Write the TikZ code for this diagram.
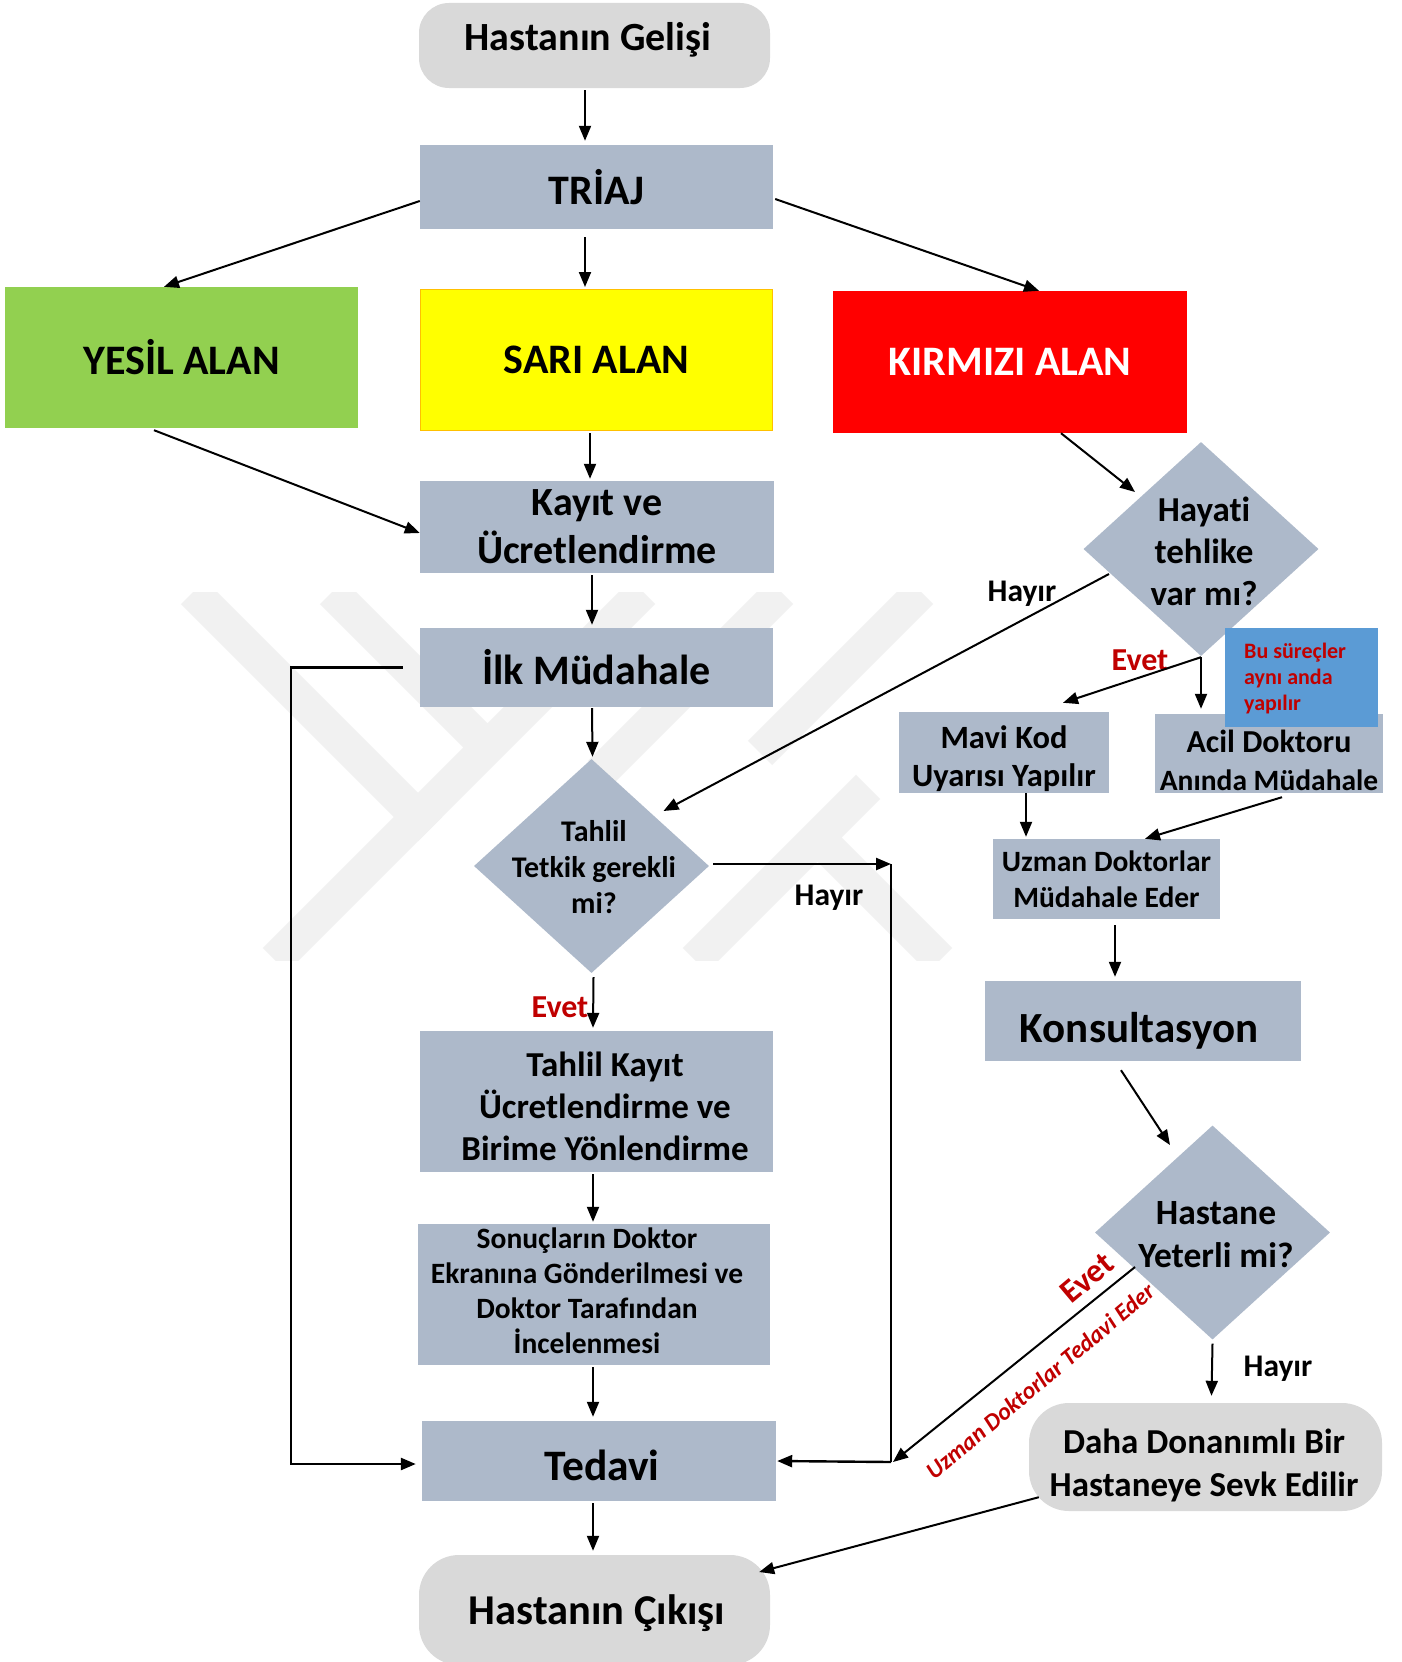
\documentclass[tikz,border=0pt]{standalone}
\usepackage{fontspec}
\setmainfont{Carlito}[Ligatures=NoCommon]
\usetikzlibrary{arrows.meta,shapes.geometric}
\definecolor{boxgray}{HTML}{ADB9CA}
\definecolor{termgray}{HTML}{D9D9D9}
\definecolor{zgreen}{HTML}{92D050}
\definecolor{zyellow}{HTML}{FFFF00}
\definecolor{zorange}{HTML}{FFC000}
\definecolor{zred}{HTML}{FF0000}
\definecolor{noteblue}{HTML}{5B9BD5}
\definecolor{darkred}{HTML}{C00000}
\definecolor{wmgray}{HTML}{F1F1F1}
\newcommand\fsz[2]{\fontsize{#1}{#2}\selectfont\bfseries}

\begin{document}
\begin{tikzpicture}[x=1pt,y=-1pt,
  box/.style={fill=boxgray, inner sep=0pt, align=center},
  term/.style={fill=termgray, inner sep=0pt, align=center},
  dia/.style={diamond, fill=boxgray, inner sep=0pt, minimum width=235pt, minimum height=214pt},
  lbl/.style={inner sep=0pt, align=center},
  arr/.style={line width=2pt, -{Triangle[length=15pt,width=12pt]}},
  wm/.style={wmgray, line width=34pt}]

\clip (0,0) rectangle (1401,1662);
\fill[white] (0,0) rectangle (1401,1662);

% faint logo in the background
\begin{scope}
  \clip (150,592) rectangle (1010,960);
  \draw[wm] (193,592) -- (430,829);
  \draw[wm] (332,592) -- (495,755);
  \draw[wm] (275,960) -- (643,592);
  \draw[wm] (781,592) -- (600,773);
  \draw[wm] (921,592) -- (760,753);
  \draw[wm] (695,960) -- (868,787);
  \draw[wm] (812,832) -- (940,960);
\end{scope}

% start and the three areas
\node[term, rounded corners=30pt, minimum width=351pt, minimum height=85pt] (gel) at (594.5,45.5) {};
\node[lbl, font=\fsz{40}{44}] (geltx) at (588,40) {Hastanın Gelişi};
\node[box, minimum width=353pt, minimum height=84pt, font=\fsz{42}{48}] (tri) at (596.5,187) {TRİAJ};
\node[box, fill=zgreen, minimum width=353pt, minimum height=141pt, font=\fsz{42}{48}] (yes) at (181.5,357.5) {YESİL ALAN};
\node[box, fill=zyellow, draw=zorange, line width=1pt, minimum width=352pt, minimum height=141pt, font=\fsz{42}{48}] (sari) at (596.5,360) {SARI ALAN};
\node[box, fill=zred, text=white, minimum width=354pt, minimum height=142pt, font=\fsz{42}{48}] (kir) at (1010,362) {KIRMIZI ALAN};

% middle column
\node[box, minimum width=354pt, minimum height=92pt, font=\fsz{40}{48}] (kay) at (597,527) {Kayıt ve\\Ücretlendirme};
\node[box, minimum width=353pt, minimum height=79pt, font=\fsz{42}{48}] (ilk) at (596.5,667.5) {İlk Müdahale};
\node[dia] (tah) at (591.5,866) {};
\node[lbl, font=\fsz{30}{36}] (tahtx) at (594,867) {Tahlil\\Tetkik gerekli\\mi?};
\node[box, minimum width=353pt, minimum height=141pt] (tk) at (596.5,1101.5) {};
\node[lbl, font=\fsz{35}{42}] (tktx) at (605,1106) {Tahlil Kayıt\\Ücretlendirme ve\\Birime Yönlendirme};
\node[box, minimum width=352pt, minimum height=141pt] (son) at (594,1294.5) {};
\node[lbl, font=\fsz{29.5}{35}] (sontx) at (587,1291) {Sonuçların Doktor\\Ekranına Gönderilmesi ve\\Doktor Tarafından\\İncelenmesi};
\node[box, minimum width=354pt, minimum height=80pt] (ted) at (599,1461) {};
\node[lbl, font=\fsz{43.5}{48}] (tedtx) at (602,1465) {Tedavi};
\node[term, rounded corners=40pt, minimum width=351pt, minimum height=110pt] (cik) at (594.5,1610) {};
\node[lbl, font=\fsz{42.5}{48}] (ciktx) at (597,1613) {Hastanın Çıkışı};

% red area branch
\node[dia] (hay) at (1201,549) {};
\node[lbl, font=\fsz{35}{42}] (haytx) at (1204,551) {Hayati\\tehlike\\var mı?};
\node[box, minimum width=210pt, minimum height=81pt] (mavi) at (1004,752.5) {};
\node[lbl, font=\fsz{32.5}{38}] (mavitx) at (1004,759) {Mavi Kod\\Uyarısı Yapılır};
\node[box, minimum width=228pt, minimum height=79pt] (acil) at (1269,753.5) {};
\node[lbl, font=\fsz{29.5}{38}] (aciltx) at (1269,760) {{\fontsize{32}{38}\selectfont Acil Doktoru}\\Anında Müdahale};
\node[fill=noteblue, minimum width=153pt, minimum height=99pt, inner sep=0pt] (note) at (1301.5,677.5) {};
\node[lbl, anchor=west, align=left, text=darkred, font=\fsz{22}{26}] (notetx) at (1244,679) {Bu süreçler\\aynı anda\\yapılır};
\node[box, minimum width=227pt, minimum height=80pt, font=\fsz{29.5}{36}] (uzm) at (1106.5,879) {Uzman Doktorlar\\Müdahale Eder};
\node[box, minimum width=316pt, minimum height=80pt] (kon) at (1143,1021) {};
\node[lbl, font=\fsz{43}{48}] (kontx) at (1139,1031) {Konsultasyon};
\node[dia] (hst) at (1212.5,1232.5) {};
\node[lbl, font=\fsz{35.5}{43}] (hsttx) at (1216,1235) {Hastane\\Yeterli mi?};
\node[term, rounded corners=40pt, minimum width=353pt, minimum height=108pt] (daha) at (1205.5,1457) {};
\node[lbl, font=\fsz{35}{43}] (dahatx) at (1204,1465) {Daha Donanımlı Bir\\Hastaneye Sevk Edilir};

% branch labels
\node[lbl, font=\fsz{31.5}{36}] (hay1) at (1022,594) {Hayır};
\node[lbl, font=\fsz{32}{36}, text=darkred] (ev1) at (1140,660) {Evet};
\node[lbl, font=\fsz{32}{36}, text=darkred] (ev2) at (560,1007) {Evet};
\node[lbl, font=\fsz{31.5}{36}] (hay2) at (829,898) {Hayır};
\node[lbl, font=\fsz{31.5}{36}] (hay3) at (1278,1369) {Hayır};
\node[lbl, font=\fsz{33}{36}, text=darkred, rotate=40] (ev3) at (1087,1278) {Evet};
\node[lbl, font=\fontsize{24}{28}\selectfont\bfseries\itshape, text=darkred, rotate=40] (uzmtx) at (1040,1381) {Uzman Doktorlar Tedavi Eder};

% helper points of the elbow connectors
\coordinate (tp) at (891,864);
\coordinate (jn) at (891,1462);
\coordinate (lpt) at (291,667.5);
\coordinate (lpb) at (291,1464);

% connectors
\draw[arr] ([xshift=-9.5pt,yshift=-2pt]gel.south) -- ([xshift=-11.5pt,yshift=4pt]tri.north);
\draw[arr] ([yshift=-14pt]tri.west) -- ([xshift=-17.5pt]yes.north);
\draw[arr] ([xshift=-11.5pt,yshift=-8pt]tri.south) -- ([xshift=-11.5pt,yshift=2pt]sari.north);
\draw[arr] ([xshift=2pt,yshift=-12pt]tri.east) -- ([xshift=29pt]kir.north);
\draw[arr] ([xshift=-27.5pt,yshift=-2pt]yes.south) -- ([yshift=-6pt]kay.west);
\draw[arr] ([xshift=-6.5pt,yshift=-2pt]sari.south) -- ([xshift=-7pt,yshift=2pt]kay.north);
\draw[arr] ([xshift=51pt]kir.south) -- ([xshift=-66pt,yshift=57pt]hay.center);
\draw[arr] ([xshift=-5pt,yshift=-2pt]kay.south) -- ([xshift=-4.5pt,yshift=3pt]ilk.north);
\draw[arr] ([xshift=-4.5pt,yshift=-1pt]ilk.south) -- ([xshift=1pt,yshift=2pt]tah.north);
\draw[arr] ([xshift=-92pt,yshift=-25pt]hay.center) -- ([xshift=72pt,yshift=55pt]tah.center);
\draw[arr] ([yshift=-1pt]hay.south) -- ([xshift=59pt,yshift=9pt]mavi.north);
\draw[arr] ([yshift=-1pt]hay.south) -- ([xshift=-68pt,yshift=5pt]acil.north);
\draw[arr] ([xshift=22pt]mavi.south) -- ([xshift=-80.5pt,yshift=2pt]uzm.north);
\draw[arr] ([xshift=13pt,yshift=-4pt]acil.south) -- ([xshift=38.5pt]uzm.north);
\draw[arr] ([xshift=8.5pt,yshift=-6pt]uzm.south) -- ([xshift=-28pt,yshift=4pt]kon.north);
\draw[arr] ([xshift=-22pt,yshift=-9pt]kon.south) -- ([xshift=-42.5pt,yshift=87.5pt]hst.center);
\draw[arr] ([yshift=-4pt]hst.south) -- ([xshift=6pt,yshift=7pt]daha.north);
\draw[arr] ([xshift=-77.5pt,yshift=-34.5pt]hst.center) -- ([xshift=2pt]jn);
\draw[arr] ([xshift=2pt,yshift=-4pt]tah.south) -- ([xshift=-3.5pt,yshift=3pt]tk.north);
\draw[arr, line width=2.4pt] ([xshift=4pt,yshift=2pt]tah.east) -- (tp);
\draw[line width=2.2pt] (tp) -- (jn);
\draw[arr, line width=2.4pt] (jn) -- ([xshift=1pt]ted.east);
\draw[arr, line width=2.6pt] ([xshift=-17pt]ilk.west) -- (lpt) -- (lpb) -- ([xshift=-6pt,yshift=-3pt]ted.west);
\draw[arr] ([xshift=-3.5pt,yshift=-2pt]tk.south) -- ([xshift=-1pt,yshift=2pt]son.north);
\draw[arr] ([xshift=-1pt,yshift=-2pt]son.south) -- ([xshift=-6pt,yshift=4pt]ted.north);
\draw[arr] ([xshift=-6pt,yshift=-2pt]ted.south) -- ([xshift=-1.5pt,yshift=4pt]cik.north);
\draw[arr] ([xshift=10pt,yshift=14pt]daha.south west) -- ([xshift=-11pt,yshift=38pt]cik.east);
\end{tikzpicture}
\end{document}
